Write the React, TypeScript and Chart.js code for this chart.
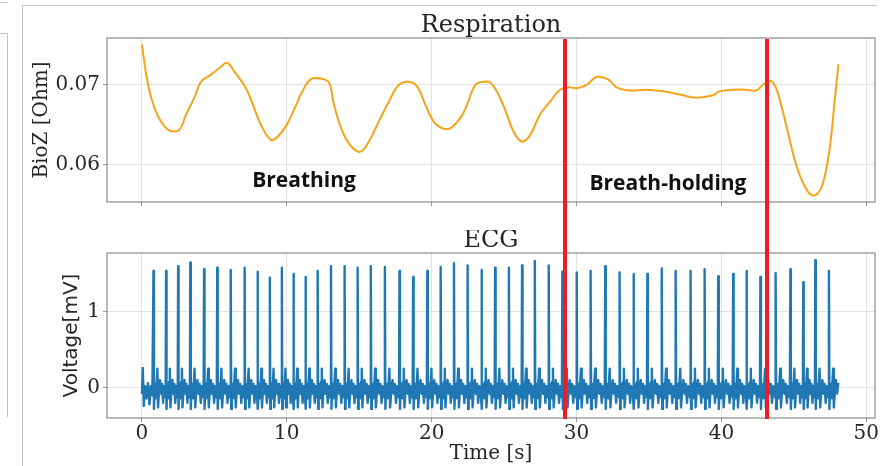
import React, { useEffect, useRef } from "react";
import { Chart, registerables } from "chart.js";

Chart.register(...registerables);

// ---------- data ----------
const timeTicks = [0, 10, 20, 30, 40, 50];
const biozTicks = [0.06, 0.07];
const voltTicks = [0, 1];
const timeRange = [-2.41, 50.6];
const biozRange = [0.0553, 0.0759];
const voltRange = [-0.4, 1.775];

const eventTimes = [29.2, 43.12];

const annotationLabels = ["Breathing", "Breath-holding"];
const annotationTimes = [11.19, 36.31];
const annotationBioZ = [0.05723, 0.0568];

const respTime = [
  0.0, 0.3, 0.64, 1.1, 1.56, 2.02, 2.59, 3.05, 3.62, 4.08, 4.77, 5.34, 5.87, 6.37,
  7.18, 7.75, 8.21, 8.9, 9.36, 9.93, 10.5, 11.08, 11.65, 12.34, 12.91, 13.26, 13.83,
  14.4, 15.05, 15.67, 16.35, 17.04, 17.73, 18.42, 19.0, 19.57, 20.14, 20.83, 21.4,
  22.2, 23.01, 23.58, 24.04, 24.61, 25.19, 25.64, 26.22, 26.79, 27.48, 28.17, 28.86,
  29.43, 30.01, 30.7, 31.38, 32.18, 32.76, 33.68, 34.82, 35.97, 37.12, 38.27, 39.41,
  39.87, 40.79, 41.71, 42.4, 42.85, 43.43, 43.77, 44.12, 44.57, 45.03, 45.49, 46.06,
  46.52, 46.98, 47.44, 47.79, 48.08,
];
const respBioZ = [
  0.0751, 0.0713, 0.0684, 0.0661, 0.0648, 0.0642, 0.0644, 0.0663, 0.0684, 0.0704,
  0.0713, 0.0721, 0.0728, 0.0717, 0.0696, 0.0671, 0.065, 0.0631, 0.0635, 0.0648,
  0.0669, 0.0692, 0.0707, 0.0708, 0.0703, 0.0675, 0.0642, 0.0624, 0.0616, 0.0629,
  0.0654, 0.0679, 0.07, 0.0704, 0.0698, 0.0675, 0.0654, 0.0645, 0.0647, 0.0665,
  0.07, 0.0704, 0.0703, 0.0688, 0.0663, 0.0642, 0.0629, 0.0637, 0.0663, 0.0679,
  0.0694, 0.0697, 0.0696, 0.07, 0.071, 0.0707, 0.0697, 0.0693, 0.0694, 0.0692,
  0.0688, 0.0684, 0.0687, 0.0692, 0.0694, 0.0694, 0.0693, 0.07, 0.0705, 0.0696,
  0.0675, 0.0642, 0.0608, 0.0583, 0.0564, 0.0562, 0.0575, 0.0616, 0.0675, 0.0726,
];

const ecgBeatTimes = [
  0.8, 1.67, 2.5, 3.34, 4.29, 5.2, 6.13, 7.09, 7.98, 8.83, 9.66, 10.46, 11.29, 12.13,
  13.05, 13.99, 14.89, 15.8, 16.77, 17.78, 18.72, 19.7, 20.62, 21.54, 22.48, 23.44,
  24.38, 25.33, 26.24, 27.12, 28.08, 29.02, 30.01, 30.97, 31.98, 32.97, 33.93, 34.89,
  35.88, 36.84, 37.87, 38.84, 39.78, 40.81, 41.73, 42.69, 43.74, 44.76, 45.65, 46.48,
  47.42,
];
const ecgBeatPeaks = [
  1.54, 1.54, 1.6, 1.65, 1.56, 1.58, 1.55, 1.58, 1.53, 1.45, 1.58, 1.5, 1.46, 1.54,
  1.6, 1.6, 1.58, 1.6, 1.59, 1.54, 1.46, 1.54, 1.59, 1.64, 1.61, 1.55, 1.58, 1.58,
  1.61, 1.67, 1.61, 1.53, 1.52, 1.54, 1.6, 1.52, 1.5, 1.5, 1.57, 1.54, 1.54, 1.56,
  1.47, 1.5, 1.54, 1.46, 1.51, 1.56, 1.39, 1.68, 1.54,
];
const ecgLeadTime = [0, 0.06, 0.13, 0.22, 0.32, 0.42, 0.52, 0.62, 0.72];
const ecgLeadVolt = [-0.08, 0.26, -0.24, 0.02, -0.14, 0.06, -0.22, 0.02, -0.1];
// one heartbeat between two R peaks: position as share of the R-R interval
const beatShapeFrac = [0, 0.035, 0.08, 0.14, 0.2, 0.26, 0.31, 0.36, 0.44, 0.52, 0.6, 0.68, 0.76, 0.84, 0.91, 0.965];
const beatShapeVolt = [null, -0.28, -0.06, 0.05, -0.14, 0.08, 0.25, -0.26, -0.03, 0.1, -0.08, 0.05, -0.2, 0.02, -0.06, -0.13];
const ecgEndTime = 48.12;
const ecgEndVolt = 0.04;

// ---------- helpers ----------
function buildEcg() {
  const pts: { x: number; y: number }[] = ecgLeadTime.map((t, i) => ({ x: t, y: ecgLeadVolt[i] }));
  const n = ecgBeatTimes.length;
  for (let i = 0; i < n; i++) {
    const t0 = ecgBeatTimes[i];
    const rr = i + 1 < n ? ecgBeatTimes[i + 1] - t0 : t0 - ecgBeatTimes[i - 1];
    beatShapeFrac.forEach((f, k) => {
      const t = t0 + f * rr;
      if (t < ecgEndTime) pts.push({ x: t, y: k === 0 ? ecgBeatPeaks[i] : (beatShapeVolt[k] as number) });
    });
  }
  pts.push({ x: ecgEndTime, y: ecgEndVolt });
  return pts;
}

const SERIF = "'DejaVu Serif', serif";
const SANS = "'DejaVu Sans', sans-serif";
const GRID = "#e2e2e2";
const FRAME = "#8a8a8a";
const TEXT = "#262626";

function makeOverlay(cfg: { title: string; redFromTop: boolean; labels?: boolean }) {
  return {
    id: "overlay_" + cfg.title,
    afterDatasetsDraw(chart: any) {
      const { ctx, chartArea, scales } = chart;
      ctx.save();
      if (cfg.labels) {
        ctx.fillStyle = "#111";
        ctx.font = "bold 21px 'Open Sans', sans-serif";
        ctx.textAlign = "center";
        ctx.textBaseline = "alphabetic";
        annotationLabels.forEach((txt, i) => {
          ctx.fillText(txt, scales.x.getPixelForValue(annotationTimes[i]), scales.y.getPixelForValue(annotationBioZ[i]));
        });
      }
      ctx.strokeStyle = FRAME;
      ctx.lineWidth = 1.2;
      ctx.strokeRect(chartArea.left, chartArea.top, chartArea.right - chartArea.left, chartArea.bottom - chartArea.top);
      ctx.strokeStyle = "#ee1c25";
      ctx.lineWidth = 4;
      eventTimes.forEach((t) => {
        const px = Math.round(scales.x.getPixelForValue(t));
        ctx.beginPath();
        if (cfg.redFromTop) {
          ctx.moveTo(px, chartArea.top + 1);
          ctx.lineTo(px, chart.height);
        } else {
          ctx.moveTo(px, 0);
          ctx.lineTo(px, chartArea.bottom + 1);
        }
        ctx.stroke();
      });
      ctx.fillStyle = TEXT;
      ctx.font = "24px " + SERIF;
      ctx.textAlign = "center";
      ctx.textBaseline = "alphabetic";
      ctx.fillText(cfg.title, (chartArea.left + chartArea.right) / 2, chartArea.top - 6);
      ctx.restore();
    },
  };
}

function xScale(showLabels: boolean, axisHeight: number) {
  return {
    type: "linear" as const,
    min: timeRange[0],
    max: timeRange[1],
    afterBuildTicks: (s: any) => {
      s.ticks = timeTicks.map((v) => ({ value: v }));
    },
    afterFit: (s: any) => {
      s.height = axisHeight;
    },
    grid: { color: GRID, lineWidth: 1, drawTicks: true, tickLength: 4, tickColor: "#9a9a9a" },
    border: { display: false },
    ticks: {
      padding: 0,
      color: TEXT,
      font: { family: SERIF, size: 20 },
      maxRotation: 0,
      callback: (v: any) => (showLabels ? String(v) : ""),
    },
    title: showLabels
      ? { display: true, text: "Time [s]", color: TEXT, font: { family: SERIF, size: 20 }, padding: { top: 0, bottom: 0 } }
      : { display: false },
  };
}

function yScale(range: number[], ticks: number[], label: string, family: string, titlePad: number, fmt: (v: number) => string) {
  return {
    type: "linear" as const,
    min: range[0],
    max: range[1],
    afterBuildTicks: (s: any) => {
      s.ticks = ticks.map((v) => ({ value: v }));
    },
    afterFit: (s: any) => {
      s.width = 107;
    },
    grid: { color: GRID, lineWidth: 1, drawTicks: true, tickLength: 4, tickColor: "#9a9a9a" },
    border: { display: false },
    ticks: {
      padding: 3,
      color: TEXT,
      font: { family: SERIF, size: 20 },
      callback: (v: any) => fmt(Number(v)),
    },
    title: { display: true, text: label, color: TEXT, font: { family, size: 20 }, padding: { top: titlePad, bottom: 0 } },
  };
}

export default function App() {
  const topRef = useRef<HTMLCanvasElement>(null);
  const botRef = useRef<HTMLCanvasElement>(null);

  useEffect(() => {
    const top = new Chart(topRef.current as HTMLCanvasElement, {
      type: "line",
      data: {
        datasets: [
          {
            data: respTime.map((t, i) => ({ x: t, y: respBioZ[i] })),
            borderColor: "#f5a418",
            borderWidth: 2,
            pointRadius: 0,
            tension: 0.4,
            borderJoinStyle: "round",
            fill: false,
          },
        ],
      },
      options: {
        animation: false,
        responsive: false,
        devicePixelRatio: 1,
        layout: { padding: { left: 0, top: 38, right: 6, bottom: 0 } },
        plugins: { legend: { display: false }, tooltip: { enabled: false }, title: { display: false } },
        scales: {
          x: xScale(false, 28),
          y: yScale(biozRange, biozTicks, "BioZ [Ohm]", SERIF, 30, (v) => v.toFixed(2)),
        },
      } as any,
      plugins: [makeOverlay({ title: "Respiration", redFromTop: true, labels: true })],
    });

    const bot = new Chart(botRef.current as HTMLCanvasElement, {
      type: "line",
      data: {
        datasets: [
          {
            data: buildEcg(),
            borderColor: "#1f77b4",
            borderWidth: 2.4,
            pointRadius: 0,
            tension: 0,
            borderJoinStyle: "round",
            fill: false,
          },
        ],
      },
      options: {
        animation: false,
        responsive: false,
        devicePixelRatio: 1,
        layout: { padding: { left: 0, top: 23, right: 6, bottom: 0 } },
        plugins: { legend: { display: false }, tooltip: { enabled: false }, title: { display: false } },
        scales: {
          x: xScale(true, 48),
          y: yScale(voltRange, voltTicks, "Voltage[mV]", SANS, 60, (v) => String(Math.round(v))),
        },
      } as any,
      plugins: [makeOverlay({ title: "ECG", redFromTop: false })],
    });

    return () => {
      top.destroy();
      bot.destroy();
    };
  }, []);

  const line = (l: number, t: number, w: number, h: number) => (
    <div style={{ position: "absolute", left: l, top: t, width: w, height: h, background: "#c4c4c4" }} />
  );

  return (
    <div style={{ position: "fixed", left: 0, top: 0, width: 881, height: 466, background: "#fff", overflow: "hidden" }}>
      {line(0, 2, 8, 1)}
      {line(0, 33, 8, 1)}
      {line(7, 33, 1, 384)}
      {line(22, 5, 1, 461)}
      {line(22, 5, 855, 1)}
      <canvas ref={topRef} width={881} height={230} style={{ position: "absolute", left: 0, top: 0, width: 881, height: 230 }} />
      <canvas ref={botRef} width={881} height={236} style={{ position: "absolute", left: 0, top: 230, width: 881, height: 236 }} />
    </div>
  );
}
